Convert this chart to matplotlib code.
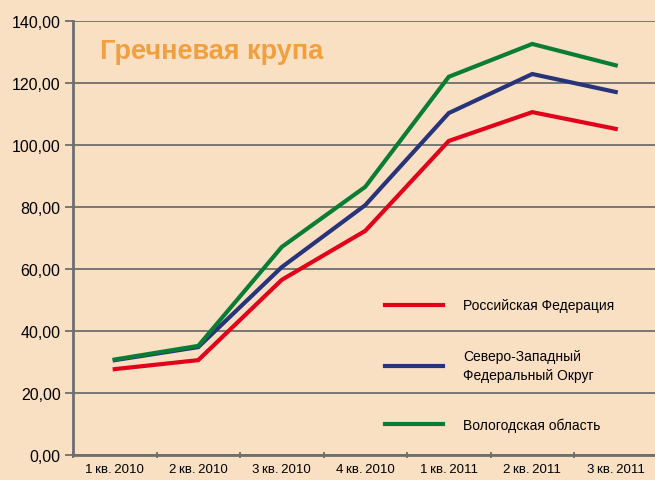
import matplotlib
matplotlib.use("Agg")
import matplotlib.pyplot as plt
from matplotlib import font_manager
from matplotlib.lines import Line2D

categories = ["1\u2009кв.\u20092010", "2\u2009кв.\u20092010", "3\u2009кв.\u20092010", "4\u2009кв.\u20092010",
              "1\u2009кв.\u20092011", "2\u2009кв.\u20092011", "3\u2009кв.\u20092011"]
rf = [27.7, 30.6, 56.5, 72.3, 101.3, 110.6, 105.2]
szfo = [30.6, 34.8, 60.6, 80.6, 110.3, 122.9, 117.1]
vologda = [30.8, 35.2, 67.1, 86.5, 122.0, 132.6, 125.7]
series_names = ["Российская Федерация", "Северо-Западный\nФедеральный Округ", "Вологодская область"]
yticks = [0, 20, 40, 60, 80, 100, 120, 140]
title = "Гречневая крупа"

names = {f.name for f in font_manager.fontManager.ttflist}
narrow = "Liberation Sans Narrow" if "Liberation Sans Narrow" in names else "Liberation Sans"
plt.rcParams['font.family'] = [narrow, 'DejaVu Sans']

bg = "#FAE0C3"
fig = plt.figure(figsize=(6.55, 4.81), dpi=100, facecolor=bg)
ax = fig.add_axes([73/655, 1 - 456/481, 1 - 73/655, 434/481], facecolor=bg)

x = list(range(len(categories)))
colors = ["#E2001A", "#27347A", "#0A7D35"]
for vals, c in zip([rf, szfo, vologda], colors):
    ax.plot(x, vals, color=c, lw=3.0, solid_joinstyle='miter', zorder=3)

ax.set_ylim(0, 140)
ax.set_xlim(-0.5, 6.47)
ax.set_yticks(yticks)
ax.set_yticklabels([f"{v:.2f}".replace(".", ",") for v in yticks], fontsize=11.5)
ax.yaxis.grid(True, color="#6E6E6E", lw=1.3, zorder=1)
ax.set_xticks([i - 0.5 for i in x], minor=False)
ax.set_xticklabels([])
ax.set_xticks(x, minor=True)
ax.set_xticklabels(categories, minor=True, fontsize=9.5)
ax.tick_params(axis='x', which='minor', length=0, pad=6)
ax.tick_params(axis='x', which='major', length=5, color="#6E6E6E", width=1.3, direction='inout')
ax.tick_params(axis='y', length=6, color="#6E6E6E", width=1.3, direction='out', pad=3)
for s in ["top", "right"]:
    ax.spines[s].set_visible(False)
for s in ["left", "bottom"]:
    ax.spines[s].set_color("#6E6E6E")
    ax.spines[s].set_linewidth(2)

fig.text(100/655, 1 - 52/481, title, fontsize=19.5, fontweight='bold', color="#F2A03F", va='center', ha='left')

handles = [Line2D([0], [0], color=c, lw=3) for c in colors]
leg = fig.legend(handles, series_names, loc='upper left', bbox_to_anchor=(372/655, 1 - 287/481),
                 frameon=False, fontsize=10, handlelength=4.2, handletextpad=1.45, labelspacing=2.6)
for t in leg.get_texts():
    t.set_linespacing(1.45)

fig.savefig("out.png", dpi=100, facecolor=bg)
